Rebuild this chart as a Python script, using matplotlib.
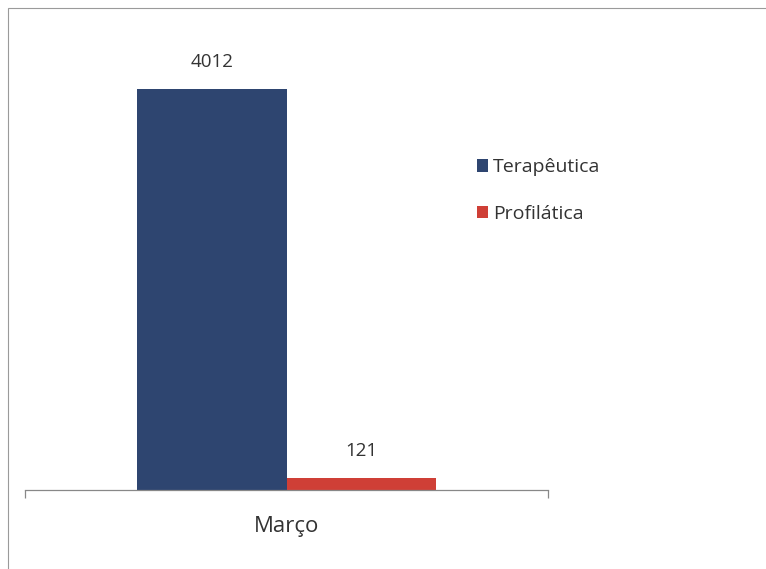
import matplotlib
matplotlib.use("Agg")
import matplotlib.pyplot as plt
from matplotlib.patches import Rectangle

categories = ["Março"]
series_names = ["Terapêutica", "Profilática"]
terapeutica = [4012]
profilatica = [121]

plt.rcParams['font.family'] = ['Open Sans', 'DejaVu Sans']

W, H = 766, 569
fig = plt.figure(figsize=(W / 100, H / 100), dpi=100)
fig.patch.set_facecolor('white')

# outer chart frame
fig.patches.append(Rectangle((8 / W, -0.01), 1.0, (H - 8) / H + 0.01,
                             transform=fig.transFigure, fill=False,
                             edgecolor='#9a9a9a', linewidth=0.8))

ax = fig.add_axes([25 / W, (H - 490) / H, 523 / W, 450 / H])
ax.set_xlim(-0.5, 0.5)
ax.set_ylim(0, 4500)

bw = 0.285
x = list(range(len(categories)))
b1 = ax.bar([xi - bw / 2 for xi in x], terapeutica, width=bw, color='#2e4570',
            edgecolor='none', label=series_names[0])
b2 = ax.bar([xi + bw / 2 for xi in x], profilatica, width=bw, color='#cf3f36',
            edgecolor='none', label=series_names[1])

for bars, vals in ((b1, terapeutica), (b2, profilatica)):
    for r, v in zip(bars, vals):
        ax.annotate(str(v), (r.get_x() + r.get_width() / 2, r.get_height()),
                    xytext=(0, 13), textcoords='offset points',
                    ha='center', va='bottom', fontsize=13.5, color='#333333')

for s in ['top', 'right', 'left']:
    ax.spines[s].set_visible(False)
ax.spines['bottom'].set_color('#888888')
ax.spines['bottom'].set_linewidth(0.9)
ax.set_yticks([])
ax.set_xticks(x)
ax.set_xticklabels(categories, fontsize=16, color='#333333')
ax.tick_params(axis='x', length=0, pad=19)
ax.set_xticks([-0.5, 0.5], minor=True)
ax.tick_params(axis='x', which='minor', length=6, color='#888888', width=0.9)

leg = fig.legend(handles=[b1, b2], labels=series_names, loc='upper left',
                 bbox_to_anchor=(459 / W, 1 - 141 / H), frameon=False,
                 fontsize=14, handlelength=0.6, handleheight=0.6,
                 handletextpad=0.25, labelspacing=1.45)
for t in leg.get_texts():
    t.set_color('#333333')

fig.savefig('out.png', dpi=100, facecolor='white')
